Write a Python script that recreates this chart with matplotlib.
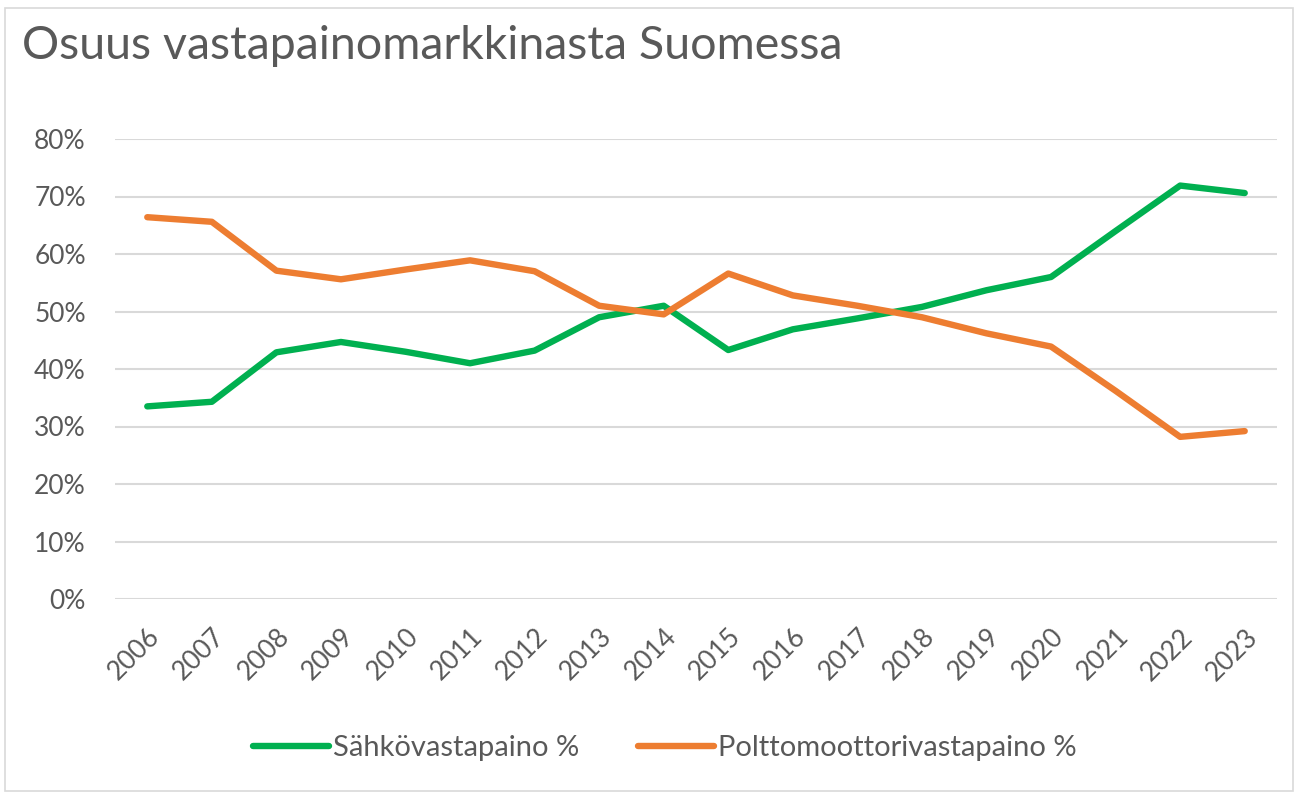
import matplotlib
matplotlib.use("Agg")
import matplotlib.pyplot as plt
from matplotlib.patches import Rectangle
from matplotlib.ticker import FuncFormatter

# ----- DATA -----
years = [str(y) for y in range(2006, 2024)]
electric_pct = [33.5, 34.3, 42.9, 44.7, 43.0, 41.0, 43.2, 49.0, 51.0,
                43.3, 46.9, 48.8, 50.8, 53.7, 56.0, 64.0, 71.9, 70.6]
combustion_pct = [66.4, 65.6, 57.1, 55.6, 57.3, 58.9, 57.0, 51.0, 49.5,
                  56.6, 52.8, 51.0, 49.0, 46.2, 43.9, 36.2, 28.2, 29.2]
series_names = ["Sähkövastapaino %", "Polttomoottorivastapaino %"]

GREEN = "#00B050"
ORANGE = "#ED7D31"
TEXT = "#595959"
GRID = "#D9D9D9"
FONT = ["Lato", "DejaVu Sans"]

plt.rcParams["font.family"] = FONT

W, H = 1301, 799
fig = plt.figure(figsize=(W / 100, H / 100), dpi=100)

# chart frame like the spreadsheet chart area
fig.patches.append(Rectangle((5 / W, 8 / H), 1288 / W, 783 / H, transform=fig.transFigure,
                             fill=False, edgecolor=GRID, linewidth=1.2))

left, right, top, bottom = 115, 1277, 139, 599
ax = fig.add_axes([left / W, 1 - bottom / H, (right - left) / W, (bottom - top) / H])

x = range(len(years))
ax.plot(x, [v / 100 for v in electric_pct], color=GREEN, linewidth=4.6,
        solid_capstyle="round", solid_joinstyle="round", label=series_names[0], zorder=3)
ax.plot(x, [v / 100 for v in combustion_pct], color=ORANGE, linewidth=4.6,
        solid_capstyle="round", solid_joinstyle="round", label=series_names[1], zorder=3)

ax.set_xlim(-0.5, len(years) - 0.5)
ax.set_ylim(0, 0.8)
ax.set_yticks([i / 10 for i in range(9)])
ax.yaxis.set_major_formatter(FuncFormatter(lambda v, p: f"{v * 100:.0f}%"))
ax.set_xticks(list(x))
ax.set_xticklabels(years, rotation=45, ha="right", va="top", rotation_mode="anchor")

ax.grid(axis="y", color=GRID, linewidth=1.5)
ax.set_axisbelow(True)
for s in ax.spines.values():
    s.set_visible(False)
ax.tick_params(axis="both", length=0, colors=TEXT, labelsize=19)
ax.tick_params(axis="y", pad=21)
ax.tick_params(axis="x", pad=18)

fig.text(22 / W, 1 - 46 / H, "Osuus vastapainomarkkinasta Suomessa", fontsize=33.5,
         color=TEXT, va="center", ha="left")

fig.legend(loc="center", bbox_to_anchor=(665 / W, 1 - 748 / H), ncol=2, frameon=False,
           fontsize=21, labelcolor=TEXT, handlelength=2.6, handletextpad=0.15,
           columnspacing=2.0)

fig.savefig("out.png", dpi=100)
